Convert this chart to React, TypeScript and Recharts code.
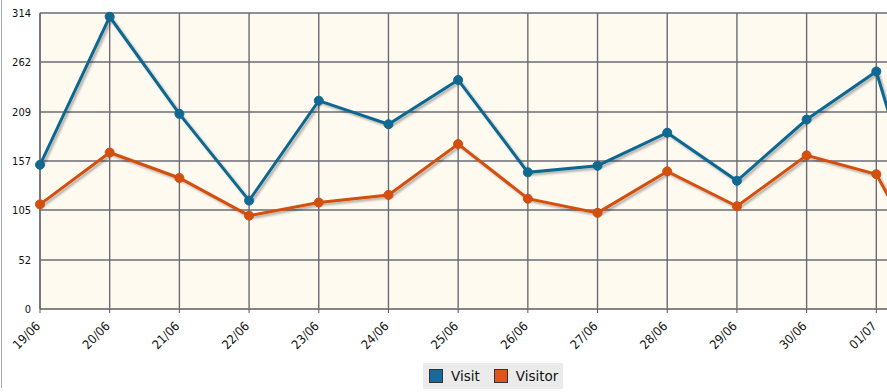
import { LineChart, Line, XAxis, YAxis, CartesianGrid, Legend } from 'recharts';

const days = ['19/06', '20/06', '21/06', '22/06', '23/06', '24/06', '25/06', '26/06', '27/06', '28/06', '29/06', '30/06', '01/07', '02/07'];
const visit = [153, 310, 207, 115, 221, 196, 243, 145, 152, 187, 136, 201, 252, 5];
const visitor = [111, 166, 139, 99, 113, 121, 175, 117, 102, 146, 109, 163, 143, 8];
const yTicks = [0, 52, 105, 157, 209, 262, 314];

const series = [
  { key: 'visit', name: 'Visit', color: '#116891', box: '#17699a' },
  { key: 'visitor', name: 'Visitor', color: '#d24f10', box: '#e0531c' },
];

const data = days.map((day, i) => ({ day, visit: visit[i], visitor: visitor[i] }));

const FONT = '"DejaVu Sans Condensed", "DejaVu Sans", sans-serif';

// the last day sits past the right edge of the visible area, so its label is not drawn
const DayTick = ({ x, y, payload, index }: any) => {
  if (index === days.length - 1) return null;
  return (
    <text
      transform={`translate(${x + 1},${y + 12}) rotate(-45)`}
      textAnchor="end"
      fontSize={12.5}
      fontFamily={FONT}
      fill="#111"
    >
      {payload.value}
    </text>
  );
};

const renderLegend = () => (
  <div
    style={{
      display: 'flex',
      alignItems: 'center',
      width: 140,
      height: 26,
      background: '#ebebeb',
      fontFamily: '"DejaVu Sans", sans-serif',
      fontSize: 13.5,
      color: '#111',
      boxSizing: 'border-box',
      paddingLeft: 6,
    }}
  >
    {series.map((s, i) => (
      <div key={s.key} style={{ display: 'flex', alignItems: 'center', marginRight: i === 0 ? 14 : 0 }}>
        <span
          style={{
            display: 'inline-block',
            width: 12,
            height: 12,
            background: s.box,
            border: '1px solid #333',
            marginRight: 8,
          }}
        />
        <span>{s.name}</span>
      </div>
    ))}
  </div>
);

export default function App() {
  return (
    <div style={{ position: 'absolute', left: 0, top: 0, width: 887, height: 392, overflow: 'hidden', background: '#fff' }}>
      <style>{`.recharts-line { filter: url(#lineShadow); }`}</style>
      <svg width={0} height={0} style={{ position: 'absolute' }}>
        <defs>
          <filter id="lineShadow" x="-5%" y="-10%" width="110%" height="130%">
            <feDropShadow dx="2" dy="2" stdDeviation="1" floodColor="#000" floodOpacity="0.3" />
          </filter>
        </defs>
      </svg>
      <div style={{ position: 'absolute', left: 1, top: 0, width: 1, height: 388, background: '#aaa' }} />
      <LineChart width={986} height={392} data={data} margin={{ top: 13, right: 40, left: 0, bottom: 3 }}>
        <CartesianGrid stroke="#6b6b74" strokeWidth={1.4} fill="#fffaf0" />
        <XAxis
          dataKey="day"
          interval={0}
          tickSize={4}
          tickMargin={2}
          height={54}
          tick={<DayTick />}
          stroke="#7a7a7a"
          axisLine={{ stroke: '#808080', strokeWidth: 1.5 }}
          tickLine={{ stroke: '#555' }}
        />
        <YAxis
          width={40}
          domain={[0, 314]}
          ticks={yTicks}
          interval={0}
          tickLine={false}
          tickSize={0}
          tickMargin={9}
          axisLine={{ stroke: '#6b6b74', strokeWidth: 1.4 }}
          tick={{ fontSize: 11, fontFamily: FONT, fill: '#111' }}
        />
        <Legend
          verticalAlign="bottom"
          align="center"
          content={renderLegend}
          wrapperStyle={{ left: 423, width: 140, bottom: 3 }}
        />
        {series.map((s) => (
          <Line
            key={s.key}
            dataKey={s.key}
            name={s.name}
            stroke={s.color}
            strokeWidth={3}
            dot={{ r: 4.5, fill: s.color, stroke: s.color, strokeWidth: 1 }}
            activeDot={false}
            isAnimationActive={false}
          />
        ))}
      </LineChart>
    </div>
  );
}
